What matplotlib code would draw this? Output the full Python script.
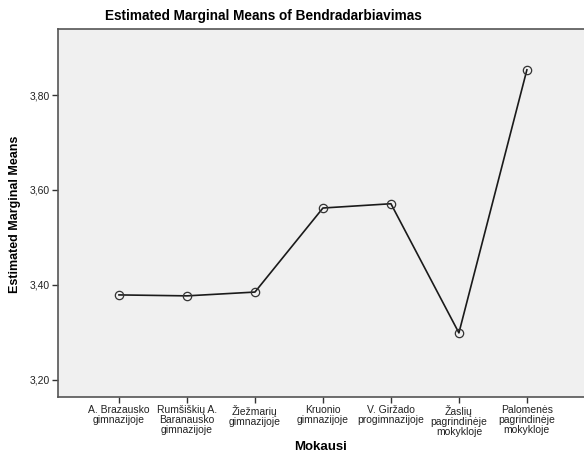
import matplotlib
matplotlib.use("Agg")
import matplotlib.pyplot as plt

categories = ["A. Brazausko\ngimnazijoje", "Rumšiškių A.\nBaranausko\ngimnazijoje",
              "Žiežmarių\ngimnazijoje", "Kruonio\ngimnazijoje", "V. Giržado\nprogimnazijoje",
              "Žaslių\npagrindinėje\nmokykloje", "Palomenės\npagrindinėje\nmokykloje"]
means = [3.379, 3.377, 3.385, 3.562, 3.571, 3.299, 3.853]
yticks = [3.20, 3.40, 3.60, 3.80]
ytick_labels = ["3,20", "3,40", "3,60", "3,80"]

plt.rcParams['font.family'] = ['Liberation Sans', 'DejaVu Sans']

fig = plt.figure(figsize=(5.84, 4.63), dpi=100)
ax = fig.add_axes([58/584, 1-397/463, 1-58/584, (397-29)/463])
ax.set_facecolor('#F0F0F0')

x = list(range(1, len(categories)+1))
ax.plot(x, means, color='#1a1a1a', lw=1.2, marker='o', markersize=6,
        markerfacecolor='none', markeredgecolor='#333333', markeredgewidth=0.9)

ax.set_xlim(0.103, 7.84)
ax.set_ylim(3.164, 3.939)
ax.set_xticks(x)
ax.set_xticklabels(categories, fontsize=7.5, linespacing=0.95)
ax.set_yticks(yticks)
ax.set_yticklabels(ytick_labels, fontsize=7.5)
ax.tick_params(axis='both', direction='out', length=4, width=1, color='#333333', labelcolor='#222222')
ax.tick_params(axis='x', pad=2)
ax.tick_params(axis='y', pad=2)

for s in ['left', 'bottom', 'top']:
    ax.spines[s].set_color('#555555')
    ax.spines[s].set_linewidth(1.2)
ax.spines['right'].set_visible(False)

fig.text(263/584, 1-16/463, "Estimated Marginal Means of Bendradarbiavimas", fontsize=9.8,
         fontweight='bold', ha='center', va='center')
ax.set_ylabel("Estimated Marginal Means", fontsize=9, fontweight='bold')
ax.yaxis.set_label_coords(-37/526, (397-214)/368)
ax.set_xlabel("Mokausi", fontsize=9.5, fontweight='bold', labelpad=3)

fig.savefig("out.png", dpi=100, facecolor='white')
